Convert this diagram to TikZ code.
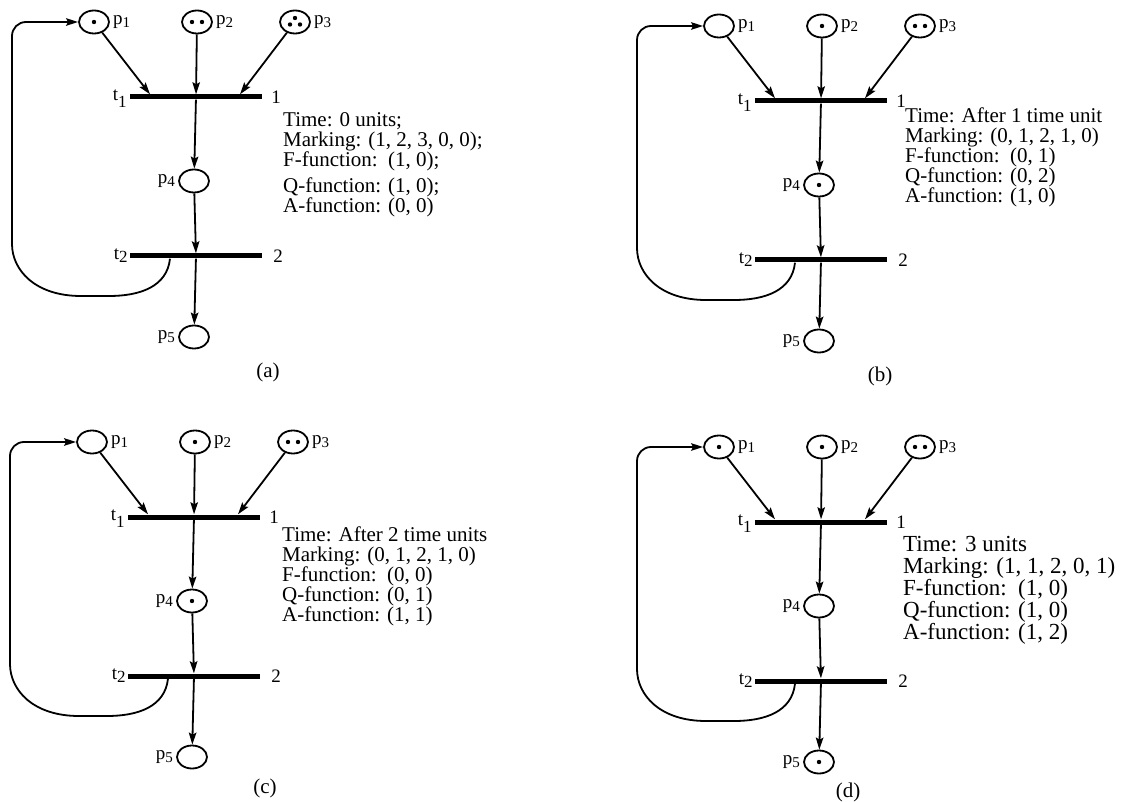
\documentclass[tikz,border=0pt]{standalone}
\usepackage{fontspec}
\setmainfont{Liberation Serif}
\usetikzlibrary{arrows.meta,positioning,shapes.geometric}

% tokens inside a place: #1 node name, #2 number of tokens
\newcommand{\tokens}[2]{%
  \ifcase#2\relax
  \or \fill (#1.center) circle (2.2pt);
  \or \fill ([xshift=-5pt]#1.center) circle (2.2pt) ([xshift=5pt]#1.center) circle (2.2pt);
  \or \fill ([yshift=4pt]#1.center) circle (2.2pt) ([xshift=-5pt,yshift=-2.5pt]#1.center) circle (2.2pt)
        ([xshift=5pt,yshift=-2.5pt]#1.center) circle (2.2pt);
  \fi}

\begin{document}
\begin{tikzpicture}[x=1pt,y=-1pt,>={Stealth[length=12pt,width=7.5pt,inset=2pt]}]
\tikzstyle{place}=[ellipse,draw,line width=1.8pt,minimum width=30pt,minimum height=23pt,inner sep=0pt]
\tikzstyle{bar}=[rectangle,fill,inner sep=0pt,minimum width=132pt,minimum height=5pt]
\tikzstyle{lab}=[inner sep=0pt,font=\fontsize{19}{19}\selectfont]
\tikzstyle{arc}=[->,line width=1.8pt]
\tikzstyle{info}=[anchor=north west,align=left,inner sep=0pt,font=\fontsize{21}{20}\selectfont]
\tikzstyle{capt}=[inner sep=0pt,font=\fontsize{21}{21}\selectfont]
\useasboundingbox (0,0) rectangle (1138,802);

% the same net four times
\foreach \q/\dx/\dy in {a/0/0, b/625/4, c/-2/420, d/625/425}{
\begin{scope}[shift={(\dx,\dy)}]
\node[place] (\q p1) at (94,22) {};
\node[place] (\q p2) at (197,22) {};
\node[place] (\q p3) at (295,22) {};
\node[bar] (\q t1) at (196,97) {};
\node[place] (\q p4) at (194,181) {};
\node[bar] (\q t2) at (196,256) {};
\node[place] (\q p5) at (194,337) {};
\node[lab,right=3pt of \q p1] {p\raisebox{-3pt}{\fontsize{15}{15}\selectfont 1}};
\node[lab,right=3pt of \q p2] {p\raisebox{-3pt}{\fontsize{15}{15}\selectfont 2}};
\node[lab,right=3pt of \q p3] {p\raisebox{-3pt}{\fontsize{15}{15}\selectfont 3}};
\node[lab,left=3pt of \q p4] {p\raisebox{-3pt}{\fontsize{15}{15}\selectfont 4}};
\node[lab,left=3pt of \q p5] {p\raisebox{-3pt}{\fontsize{15}{15}\selectfont 5}};
\node[lab,left=3pt of \q t1,yshift=-2pt] {t\raisebox{-7pt}{\fontsize{17}{17}\selectfont 1}};
\node[lab,left=2pt of \q t2] {t\raisebox{-3pt}{\fontsize{17}{17}\selectfont 2}};
\node[lab,right=9pt of \q t1] {1};
\node[lab,right=11pt of \q t2] {2};
\draw[arc] (\q p1) -- ([xshift=-46pt]\q t1.north);
\draw[arc] (\q p2) -- (\q t1);
\draw[arc] (\q p3) -- ([xshift=44pt]\q t1.north);
\draw[arc] (\q t1) -- (\q p4);
\draw[arc] (\q p4) -- (\q t2);
\draw[arc] (\q t2) -- (\q p5);
\coordinate (\q low) at (95,296);
\coordinate (\q side) at (12,230);
\draw[arc,rounded corners=14pt] ([xshift=-26pt]\q t2.south) .. controls +(-3,28) and +(45,0) .. (\q low)
  .. controls +(-60,0) and +(0,40) .. (\q side) |- (\q p1.west);
\end{scope}}

\foreach \n/\k in {ap1/1, ap2/2, ap3/3, bp2/1, bp3/2, bp4/1, cp2/1, cp3/2, cp4/1, dp1/1, dp2/1, dp3/2, dp5/1}
  {\tokens{\n}{\k}}

\node[info] (atext) at (283,112) {Time: 0 units;\\ Marking: (1, 2, 3, 0, 0);\\ F-function:\ \ (1, 0);\\[6pt]
  Q-function: (1, 0);\\ A-function: (0, 0)};
\node[info] (btext) at (905,108) {Time: After 1 time unit\\ Marking: (0, 1, 2, 1, 0)\\ F-function:\ \ (0, 1)\\
  Q-function: (0, 2)\\ A-function: (1, 0)};
\node[info] (ctext) at (282,527) {Time: After 2 time units\\ Marking: (0, 1, 2, 1, 0)\\ F-function:\ \ (0, 0)\\
  Q-function: (0, 1)\\ A-function: (1, 1)};
\node[info,font=\fontsize{23}{22}\selectfont] (dtext) at (903,536) {Time: 3 units\\ Marking: (1, 1, 2, 0, 1)\\
  F-function:\ \ (1, 0)\\ Q-function: (1, 0)\\ A-function: (1, 2)};

\node[capt] (acap) at (268,372) {(a)};
\node[capt] (bcap) at (880,376) {(b)};
\node[capt] (ccap) at (265,788) {(c)};
\node[capt] (dcap) at (848,792) {(d)};
\end{tikzpicture}
\end{document}
